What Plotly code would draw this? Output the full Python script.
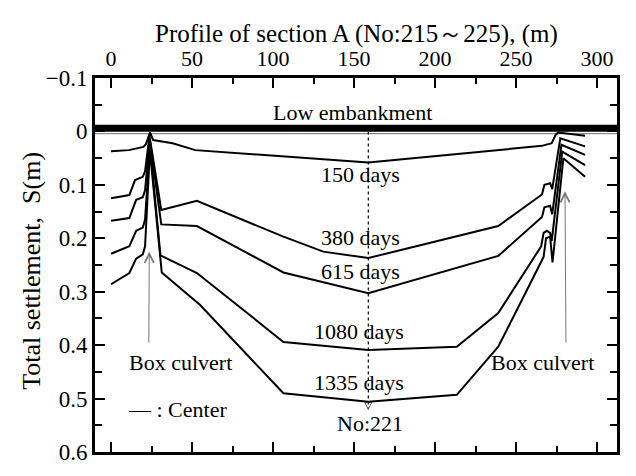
import plotly.graph_objects as go

# ---------------- data (distance in m, settlement S in m) ----------------
DAYS = ["150 days", "380 days", "615 days", "1080 days", "1335 days"]

DIST_150 = [0, 11, 20, 21.5, 24, 26, 38, 52, 158.8, 266, 272, 274.5, 276, 292.6]
S_150 = [0.037, 0.035, 0.029, 0.024, 0.002, 0.016, 0.022, 0.035, 0.058, 0.027, 0.022, 0.006, 0.002, 0.008]

DIST_380 = [0, 11.3, 14.8, 19.6, 21.0, 23.7, 31, 53, 106.4, 131, 158.8, 239, 266, 267.5, 271, 272.3, 277.3, 292.6]
S_380 = [0.125, 0.119, 0.091, 0.085, 0.075, 0.008, 0.147, 0.130, 0.197, 0.225, 0.237, 0.177, 0.118, 0.100, 0.097, 0.108, 0.013, 0.028]

DIST_615 = [0, 11.3, 15.5, 19.6, 21.0, 23.9, 31, 53, 106.4, 158.8, 239, 266, 267.5, 271, 272.3, 278, 292.6]
S_615 = [0.167, 0.162, 0.128, 0.123, 0.110, 0.016, 0.174, 0.177, 0.264, 0.303, 0.233, 0.160, 0.142, 0.139, 0.155, 0.025, 0.044]

DIST_1080 = [0, 11.3, 15.5, 19.6, 21.0, 24.0, 30.5, 53, 106.4, 158.8, 213.4, 239, 265.5, 267, 269, 271, 272, 278.5, 292.6]
S_1080 = [0.229, 0.215, 0.186, 0.180, 0.165, 0.026, 0.232, 0.265, 0.394, 0.409, 0.403, 0.340, 0.215, 0.190, 0.186, 0.190, 0.205, 0.038, 0.063]

DIST_1335 = [0, 11.3, 15.5, 19.6, 21.0, 24.0, 31.3, 55, 106.4, 158.8, 213.4, 239, 267, 268.5, 271, 272.5, 279.2, 292.6]
S_1335 = [0.286, 0.265, 0.238, 0.230, 0.215, 0.036, 0.264, 0.325, 0.490, 0.506, 0.493, 0.403, 0.235, 0.200, 0.197, 0.245, 0.050, 0.085]

SERIES = [(DIST_150, S_150), (DIST_380, S_380), (DIST_615, S_615),
          (DIST_1080, S_1080), (DIST_1335, S_1335)]

# day-label positions (x in m, S in m)
LABEL_X = [154, 154, 154, 153, 153]
LABEL_S = [0.081, 0.198, 0.262, 0.375, 0.470]

# embankment
EMB_X = [-10, 312.5]
EMB_S = [-0.006, -0.006]
EMB_GREY_S = [0.004, 0.004]

# centre line (No:221)
CENTER_X = [158.8, 158.8]
CENTER_S = [0.0, 0.52]

# box culvert arrows: (tip_x, tip_s, tail_x, tail_s)
CULVERT_ARROWS = [(23.6, 0.225, 23.3, 0.398), (280.2, 0.112, 280.8, 0.398)]
CULVERT_LABELS = [(42.9, 0.433), (266.4, 0.433)]

X_TICKS = [0, 50, 100, 150, 200, 250, 300]
Y_TICKS = [-0.1, 0, 0.1, 0.2, 0.3, 0.4, 0.5, 0.6]
Y_TICKTEXT = ["\u22120.1", "0", "0.1", "0.2", "0.3", "0.4", "0.5", "0.6"]

FONT = "Liberation Serif"

fig = go.Figure()

# embankment
fig.add_trace(go.Scatter(x=EMB_X, y=EMB_GREY_S, mode="lines",
                         line=dict(color="#8a8a8a", width=1.2), hoverinfo="skip"))
fig.add_trace(go.Scatter(x=EMB_X, y=EMB_S, mode="lines",
                         line=dict(color="black", width=7), hoverinfo="skip"))

# centre line
fig.add_trace(go.Scatter(x=CENTER_X, y=CENTER_S, mode="lines",
                         line=dict(color="black", width=1.2, dash="dot"), hoverinfo="skip"))
fig.add_trace(go.Scatter(x=[CENTER_X[1]], y=[CENTER_S[1]], mode="markers",
                         marker=dict(symbol="arrow-down-open", size=7, color="#555",
                                     line=dict(width=1, color="#555")),
                         hoverinfo="skip"))

for (dx, ds), name in zip(SERIES, DAYS):
    fig.add_trace(go.Scatter(x=dx, y=ds, mode="lines", name=name,
                             line=dict(color="black", width=2)))

annotations = []
for name, lx, ls in zip(DAYS, LABEL_X, LABEL_S):
    annotations.append(dict(x=lx, y=ls, xref="x", yref="y", text=name, showarrow=False,
                            font=dict(family=FONT, size=22, color="black")))

for (tx, ts, ax_, as_) in CULVERT_ARROWS:
    annotations.append(dict(x=tx, y=ts, ax=ax_, ay=as_, xref="x", yref="y",
                            axref="x", ayref="y", text="", showarrow=True,
                            arrowhead=5, arrowsize=1.8, arrowwidth=1, arrowcolor="#777"))
for (bx, bs) in CULVERT_LABELS:
    annotations.append(dict(x=bx, y=bs, xref="x", yref="y", text="Box culvert",
                            showarrow=False, font=dict(family=FONT, size=22, color="black")))

annotations += [
    dict(x=148.8, y=-0.036, xref="x", yref="y", text="Low embankment", showarrow=False,
         font=dict(family=FONT, size=22, color="black")),
    dict(x=159.9, y=0.546, xref="x", yref="y", text="No:221", showarrow=False,
         font=dict(family=FONT, size=22, color="black")),
    dict(x=9.0, y=0.52, xref="x", yref="y", text="— : Center", showarrow=False,
         xanchor="left", font=dict(family=FONT, size=22, color="black")),
    dict(x=0.5, y=1.118, xref="paper", yref="paper",
         text="Profile of section A (No:215～225), (m)", showarrow=False,
         xanchor="center", yanchor="middle",
         font=dict(family=FONT, size=25, color="black")),
    dict(x=-0.121, y=0.484, xref="paper", yref="paper", text="Total settlement,  S(m)",
         textangle=-90, showarrow=False, xanchor="center", yanchor="middle",
         font=dict(family=FONT, size=26, color="black")),
]

fig.update_layout(
    width=636, height=476,
    margin=dict(l=95, r=19, t=78, b=24),
    paper_bgcolor="white", plot_bgcolor="white",
    showlegend=False,
    annotations=annotations,
    font=dict(family=FONT, size=21, color="black"),
)

fig.update_xaxes(
    range=[-9.9, 312.3], side="top", tickvals=X_TICKS,
    ticks="inside", ticklen=10, tickwidth=2, tickcolor="black",
    minor=dict(dtick=25, tick0=0, ticks="inside", ticklen=6, tickwidth=2, tickcolor="black"),
    showline=True, linewidth=3, linecolor="black", mirror="ticks",
    showgrid=False, zeroline=False,
    tickfont=dict(family=FONT, size=22, color="black"),
)
fig.update_yaxes(
    range=[0.6, -0.1], tickvals=Y_TICKS, ticktext=Y_TICKTEXT,
    ticks="inside", ticklen=10, tickwidth=2, tickcolor="black",
    minor=dict(dtick=0.05, tick0=0, ticks="inside", ticklen=7, tickwidth=2, tickcolor="black"),
    showline=True, linewidth=3, linecolor="black", mirror="ticks",
    showgrid=False, zeroline=False,
    tickfont=dict(family=FONT, size=23, color="black"),
)

fig.write_html("out.html")
